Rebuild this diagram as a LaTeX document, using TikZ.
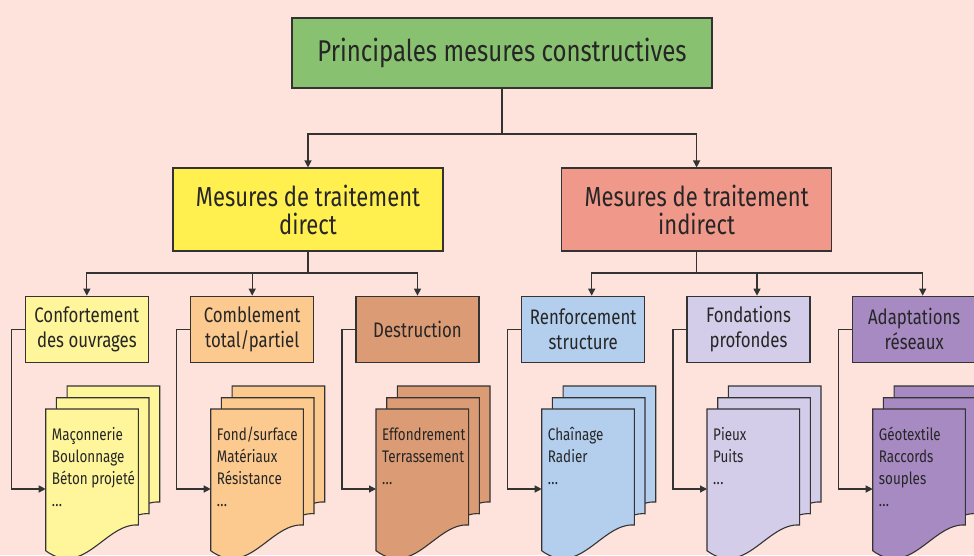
\documentclass[tikz,border=0pt]{standalone}
\usepackage{fontspec}
\setmainfont{Fira Sans}[FakeStretch=0.8]
\usetikzlibrary{arrows.meta}
\definecolor{bg}{HTML}{FDE3DC}
\definecolor{linec}{HTML}{333333}
\definecolor{textc}{HTML}{262626}
\definecolor{cgreen}{HTML}{88C16F}
\definecolor{cyel}{HTML}{FFF050}
\definecolor{csal}{HTML}{F0988A}
\definecolor{cconf}{HTML}{FFF59A}
\definecolor{ccomb}{HTML}{FCC98F}
\definecolor{cdest}{HTML}{DB9B74}
\definecolor{cnorm}{HTML}{B4CFEE}
\definecolor{cfond}{HTML}{D3CDEA}
\definecolor{cadap}{HTML}{A88AC2}
\newcommand\mydots{.\kern0.3pt.\kern0.3pt.}
\tikzset{
  box/.style={draw=linec, line width=1.1pt, inner sep=0pt, align=center, text=textc},
  lvlone/.style={box, minimum width=420pt, minimum height=70pt, font=\fontsize{30}{35}\selectfont},
  lvltwo/.style={box, minimum width=270pt, minimum height=83pt, font=\fontsize{27.5}{28}\selectfont},
  lvlthree/.style={box, minimum width=123pt, minimum height=66pt, font=\fontsize{21}{25.4}\selectfont},
  docline/.style={inner sep=0pt, text=textc, font=\fontsize{16.8}{22}\selectfont},
  conn/.style={draw=linec, line width=1.2pt},
  arr/.style={conn, -{Triangle[length=7pt,width=7pt]}},
  page/.style={draw=linec, line width=1.1pt}
}
\newcommand\docpage[3]{%
  \filldraw[page, fill=#3] ({#1},{#2}) -- ({#1+92.6},{#2}) -- ({#1+92.6},{#2+116})
    .. controls ({#1+60},{#2+113.7}) and ({#1+38},{#2+169.7}) .. ({#1},{#2+141.7}) -- cycle;}
\newcommand\docstack[4]{%
  \docpage{#1+21.4}{386}{#3}%
  \docpage{#1+10.7}{397.7}{#3}%
  \docpage{#1}{409}{#3}%
  \foreach \l [count=\i] in {#4} {\node[docline, anchor=base west] (#2-\i) at ({#1+6},{440.7+22*(\i-1)}) {\l};}%
  \coordinate (#2in) at ({#1},489);}
\begin{document}
\begin{tikzpicture}[x=1pt,y=-1pt]
\useasboundingbox (0,0) rectangle (974,555);
\fill[bg] (0,0) rectangle (974,555);
\begin{scope}
\clip (0,0) rectangle (974,555);
% level 1 and 2
\node[lvlone, fill=cgreen] (top) at (502,53) {Principales mesures constructives};
\node[lvltwo, fill=cyel] (dir) at (308,209.5) {Mesures de traitement\\direct};
\node[lvltwo, fill=csal] (ind) at (696.6,209.5) {Mesures de traitement\\indirect};
\coordinate (j1) at (502,134);
\draw[conn] (top.south) -- (j1);
\draw[arr] (j1) -| (dir.north);
\draw[arr] (j1) -| (ind.north);
% level 3
\node[lvlthree, fill=cconf] (b1) at (86.85,329.2) {Confortement\\des ouvrages};
\node[lvlthree, fill=ccomb] (b2) at (252.2,329.2) {Comblement\\total/partiel};
\node[lvlthree, fill=cdest] (b3) at (417.5,329.2) {Destruction};
\node[lvlthree, fill=cnorm] (b4) at (583.2,329.2) {Renforcement\\structure};
\node[lvlthree, fill=cfond] (b5) at (748.5,329.2) {Fondations\\profondes};
\node[lvlthree, fill=cadap] (b6) at (914.2,329.2) {Adaptations\\réseaux};
\coordinate (j2) at (308,273);
\coordinate (j3) at (696.6,273);
\draw[conn] (dir.south) -- (j2);
\draw[conn] (ind.south) -- (j3);
\draw[arr] (j2) -| (b1.north);
\draw[arr] (j2) -| (b2.north);
\draw[arr] (j2) -| (b3.north);
\draw[arr] (j3) -| ([xshift=8.5pt]b4.north);
\draw[arr] (j3) -| ([xshift=8.5pt]b5.north);
\draw[arr] (j3) -| ([xshift=8.5pt]b6.north);
% documents
\docstack{45.7}{d1}{cconf}{Maçonnerie,Boulonnage,Béton projeté,\mydots}
\docstack{210.7}{d2}{ccomb}{Fond/surface,Matériaux,Résistance,\mydots}
\docstack{376}{d3}{cdest}{Effondrement,Terrassement,\mydots}
\docstack{541.7}{d4}{cnorm}{Chaînage,Radier,\mydots}
\docstack{707}{d5}{cfond}{Pieux,Puits,\mydots}
\docstack{872.7}{d6}{cadap}{Géotextile,Raccords,souples,\mydots}
\draw[arr] (b1.west) -- ++(-13.5,0) |- (d1in);
\draw[arr] (b2.west) -- ++(-13.5,0) |- (d2in);
\draw[arr] (b3.west) -- ++(-13.5,0) |- (d3in);
\draw[arr] (b4.west) -- ++(-13.5,0) |- (d4in);
\draw[arr] (b5.west) -- ++(-13.5,0) |- (d5in);
\draw[arr] (b6.west) -- ++(-13.5,0) |- (d6in);
\end{scope}
\end{tikzpicture}
\end{document}
